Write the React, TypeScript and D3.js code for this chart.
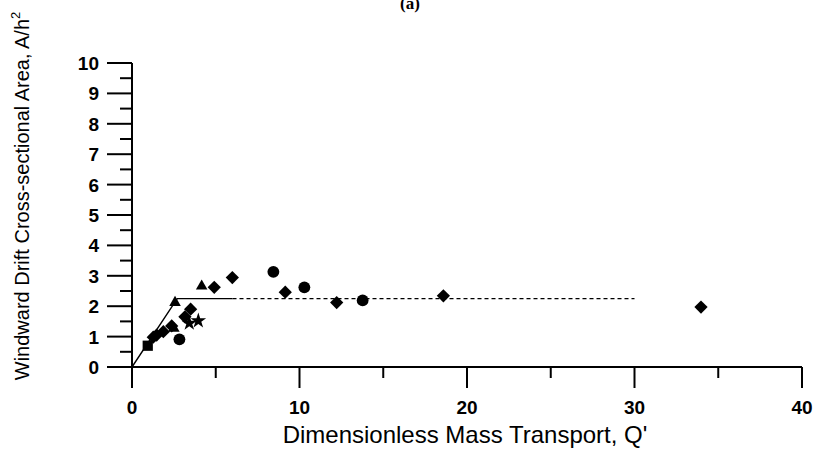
import React from 'react';
import * as d3 from 'd3';

// values (Q', A/h^2)
const diamonds: [number, number][] = [
  [1.27, 0.98], [1.47, 1.05], [1.87, 1.16], [2.37, 1.35], [3.16, 1.65], [3.5, 1.9],
  [4.91, 2.62], [5.99, 2.94], [9.15, 2.46], [12.22, 2.12], [18.59, 2.34], [33.97, 1.97],
];
const triangles: [number, number][] = [[2.5, 1.27], [2.57, 2.12], [4.16, 2.66]];
const circles: [number, number][] = [[2.83, 0.91], [8.44, 3.13], [10.29, 2.62], [13.77, 2.19]];
const stars: [number, number][] = [[3.42, 1.44], [3.96, 1.52]];
const squares: [number, number][] = [[0.94, 0.7]];

const modelSolid: [number, number][] = [[0, 0], [2.7, 2.25], [6, 2.25]];
const modelDashed: [number, number][] = [[6, 2.25], [30, 2.25]];

const xTicks = [0, 10, 20, 30, 40];
const xMinor = [5, 15, 25, 35];
const yTicks = [0, 1, 2, 3, 4, 5, 6, 7, 8, 9, 10];
const yMinor = [0.5, 1.5, 2.5, 3.5, 4.5, 5.5, 6.5, 7.5, 8.5, 9.5];

const W = 815;
const H = 451;

export default function App() {
  const x = d3.scaleLinear().domain([0, 40]).range([132, 802]);
  const y = d3.scaleLinear().domain([0, 10]).range([367, 63]);
  const line = d3.line<[number, number]>().x((d) => x(d[0])).y((d) => y(d[1]));

  const sym = (type: d3.SymbolType, size: number) => d3.symbol().type(type).size(size)() as string;
  const diamondPath = sym(d3.symbolSquare, 88);
  const trianglePath = sym(d3.symbolTriangle, 58);
  const circlePath = sym(d3.symbolCircle, 110);
  const starPath = sym(d3.symbolStar, 75);
  const squarePath = sym(d3.symbolSquare, 105);

  const font = 'Liberation Sans, Arial, sans-serif';

  return (
    <svg width={W} height={H} style={{ position: 'absolute', left: 0, top: 0, background: '#fff' }}>
      <text x={410} y={9} textAnchor="middle" fontFamily="Liberation Serif, serif" fontWeight="bold" fontSize={17}>
        (a)
      </text>

      {/* model line */}
      <path d={line(modelSolid) as string} fill="none" stroke="#000" strokeWidth={1.4} />
      <path d={line(modelDashed) as string} fill="none" stroke="#000" strokeWidth={1.4} strokeDasharray="4,3" />

      {/* axes */}
      <line x1={x(0)} x2={x(40)} y1={y(0)} y2={y(0)} stroke="#000" strokeWidth={2} />
      <line x1={x(0)} x2={x(0)} y1={y(0)} y2={y(10)} stroke="#000" strokeWidth={2} />
      {xTicks.map((t) => (
        <g key={'xt' + t}>
          <line x1={x(t)} x2={x(t)} y1={y(0)} y2={y(0) + 21} stroke="#000" strokeWidth={2} />
          <text x={x(t)} y={y(0) + 47} textAnchor="middle" fontFamily={font} fontWeight="bold" fontSize={19}>
            {t}
          </text>
        </g>
      ))}
      {xMinor.map((t) => (
        <line key={'xm' + t} x1={x(t)} x2={x(t)} y1={y(0)} y2={y(0) + 11} stroke="#000" strokeWidth={2} />
      ))}
      {yTicks.map((t) => (
        <g key={'yt' + t}>
          <line x1={x(0) - 25} x2={x(0)} y1={y(t)} y2={y(t)} stroke="#000" strokeWidth={2} />
          <text x={99} y={y(t) + 7} textAnchor="end" fontFamily={font} fontWeight="bold" fontSize={19}>
            {t}
          </text>
        </g>
      ))}
      {yMinor.map((t) => (
        <line key={'ym' + t} x1={x(0) - 12} x2={x(0)} y1={y(t)} y2={y(t)} stroke="#000" strokeWidth={2} />
      ))}

      <text x={465} y={443} textAnchor="middle" fontFamily={font} fontSize={24}>
        Dimensionless Mass Transport, Q'
      </text>
      <text transform="translate(29,196) rotate(-90)" textAnchor="middle" fontFamily={font} fontSize={20}>
        Windward Drift Cross-sectional Area, A/h
        <tspan fontSize={13} dy={-9}>2</tspan>
      </text>

      {/* markers */}
      {diamonds.map((d, i) => (
        <path key={'d' + i} d={diamondPath} transform={`translate(${x(d[0])},${y(d[1])}) rotate(45)`} fill="#000" />
      ))}
      {triangles.map((d, i) => (
        <path key={'t' + i} d={trianglePath} transform={`translate(${x(d[0])},${y(d[1])})`} fill="#000" />
      ))}
      {circles.map((d, i) => (
        <path key={'c' + i} d={circlePath} transform={`translate(${x(d[0])},${y(d[1])})`} fill="#000" />
      ))}
      {stars.map((d, i) => (
        <path key={'s' + i} d={starPath} transform={`translate(${x(d[0])},${y(d[1])})`} fill="#000" />
      ))}
      {squares.map((d, i) => (
        <path key={'q' + i} d={squarePath} transform={`translate(${x(d[0])},${y(d[1])})`} fill="#000" />
      ))}
    </svg>
  );
}
